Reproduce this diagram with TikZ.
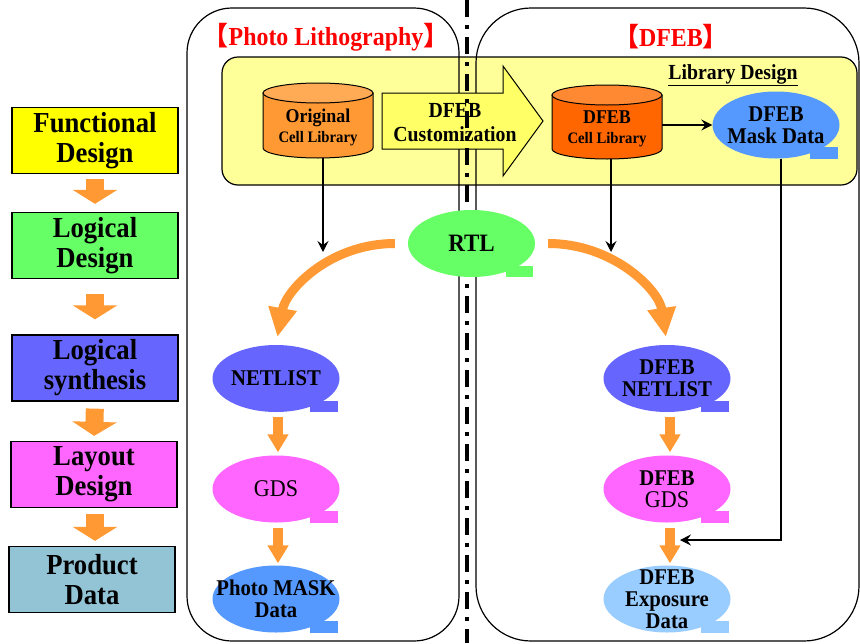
\documentclass[tikz,border=0pt]{standalone}
\usepackage{fontspec}
\setmainfont{Liberation Serif}[FakeStretch=0.92]
\newfontfamily\cjk{Noto Sans CJK SC}
\usetikzlibrary{arrows.meta,calc}
\definecolor{orangeA}{HTML}{FF9933}
\definecolor{libyellow}{HTML}{FFFF99}
\definecolor{arrowyellow}{HTML}{FFFF66}
\definecolor{fdyellow}{HTML}{FFFF00}
\definecolor{ldgreen}{HTML}{66FF66}
\definecolor{lsblue}{HTML}{6666FF}
\definecolor{lymag}{HTML}{FF66FF}
\definecolor{pdblue}{HTML}{93C4D5}
\definecolor{ocbody}{HTML}{FF9933}
\definecolor{octop}{HTML}{FFAA55}
\definecolor{dcbody}{HTML}{FF6600}
\definecolor{dctop}{HTML}{FF8833}
\definecolor{maskblue}{HTML}{5599FF}
\definecolor{expblue}{HTML}{99CCFF}
\definecolor{titlered}{HTML}{FF0000}
\newcommand\blob[4]{%
  \fill[#3] (#2) ellipse [x radius=63.5pt, y radius=33.5pt];
  \fill[#3] ($(#2)+(34,22)$) rectangle ($(#2)+(61.5,33.5)$);
  \node[blobtext] (#1) at (#2) {#4};}
\begin{document}
\begin{tikzpicture}[x=1pt,y=-1pt,
  stagebox/.style={draw, line width=1.3pt, minimum width=166pt, minimum height=66pt,
    align=center, inner sep=0pt, font=\fontsize{29}{30}\selectfont\bfseries},
  stagearrow/.style={draw=orangeA, line width=18pt, -{Triangle[length=14pt,width=44pt]}},
  blobtext/.style={minimum width=127pt, minimum height=67pt, inner sep=0pt, align=center,
    font=\fontsize{22.5}{22}\selectfont\bfseries},
  orangearc/.style={draw=orangeA, line width=9pt, -{Triangle[length=29pt,width=27pt]}},
  smallorange/.style={draw=orangeA, line width=10pt, -{Triangle[length=18pt,width=20pt]}},
  blk/.style={draw=black, line width=1.2pt, -{Stealth[length=11pt,width=11pt,inset=4pt]}},
  cyltext/.style={minimum width=110pt, inner sep=0pt, align=center,
    font=\fontsize{19.5}{20}\selectfont\bfseries},
  titletext/.style={text=titlered, font=\fontsize{26}{28}\selectfont\bfseries, inner sep=0pt}
]
\useasboundingbox (0,0) rectangle (860,643);

% library design box
\draw[fill=libyellow, line width=1.2pt, rounded corners=16pt] (222,57) rectangle (857,185);
% panels
\draw[line width=1.2pt, rounded corners=45pt] (187,8) rectangle (459,641);
\draw[line width=1.2pt, rounded corners=55pt] (476,8) rectangle (859,641);

% big customization arrow
\draw[fill=arrowyellow, line width=1pt] (382,93) -- (503,93) -- (503,66) -- (543,121)
  -- (503,176) -- (503,149) -- (382,149) -- cycle;

% divider
\draw[line width=3.5pt, dash pattern=on 17pt off 8pt on 4pt off 8pt] (467,0) -- (467,643);

\node[font=\fontsize{21.5}{24}\selectfont\bfseries, align=center] (cust) at (455,123)
  {DFEB\\Customization};

% titles
\node[titletext] (tpl) at (326,37) {{\cjk 【}Photo Lithography{\cjk 】}};
\node[titletext] (tdf) at (671,37) {{\cjk 【}DFEB{\cjk 】}};
\node[font=\fontsize{21.5}{22}\selectfont\bfseries, inner sep=0pt] (libd) at (733,75)
  {\underline{Library Design}};

% original cell library cylinder
\filldraw[fill=ocbody, line width=1pt] (263,93) -- (263,148)
  arc[start angle=180, end angle=360, x radius=55pt, y radius=10pt] -- (373,93) -- cycle;
\filldraw[fill=octop, line width=1pt] (318,93) ellipse [x radius=55pt, y radius=10pt];
\node[cyltext, minimum height=62pt] (ocl) at (318,127)
  {Original\\{\fontsize{16}{20}\selectfont Cell Library}};

% DFEB cell library cylinder
\filldraw[fill=dcbody, line width=1pt] (552,95) -- (552,149)
  arc[start angle=180, end angle=360, x radius=55pt, y radius=10pt] -- (662,95) -- cycle;
\filldraw[fill=dctop, line width=1pt] (607,95) ellipse [x radius=55pt, y radius=10pt];
\node[cyltext, minimum height=61pt] (dcl) at (607,128.5)
  {DFEB\\{\fontsize{16}{20}\selectfont Cell Library}};

% blobs
\blob{mdata}{776,125}{maskblue}{DFEB\\Mask Data}
\blob{rtl}{471.5,243.5}{ldgreen}{\fontsize{25}{26}\selectfont RTL}
\blob{net}{276,378.5}{lsblue}{NETLIST}
\blob{gds}{276,489}{lymag}{\mdseries\fontsize{24}{24}\selectfont GDS}
\blob{pm}{276,599}{maskblue}{Photo MASK\\Data}
\blob{dnet}{667,378.5}{lsblue}{DFEB\\NETLIST}
\blob{dgds}{667,489}{lymag}{DFEB\\\mdseries\fontsize{24}{22}\selectfont GDS}
\blob{exp}{667,599}{expblue}{\fontsize{22.5}{21}\selectfont DFEB\\Exposure\\Data}

% stage boxes
\node[stagebox, fill=fdyellow] (fd) at (95,140.5) {Functional\\Design};
\node[stagebox, fill=ldgreen] (ld) at (95,245.5) {Logical\\Design};
\node[stagebox, fill=lsblue] (ls) at (95,368) {Logical\\synthesis};
\node[stagebox, fill=lymag] (ly) at (94,474.5) {Layout\\Design};
\node[stagebox, fill=pdblue] (pd) at (92,579.5) {Product\\Data};

\draw[stagearrow, shorten <=5pt, shorten >=8pt] (fd.south) -- (ld.north);
\draw[stagearrow, shorten <=15pt, shorten >=15pt] (ld.south) -- (ls.north);
\draw[stagearrow, shorten <=7pt, shorten >=5pt] (ls.south) -- (ly.north);
\draw[stagearrow, shorten <=6pt, shorten >=5pt] ($(ly.south)+(1,0)$) -- ($(pd.north)+(3,0)$);

% black connectors
\coordinate (oclend) at (323,252);
\coordinate (dclend) at (611,252);
\coordinate (mturn) at (781,540);
\coordinate (exptip) at (680,540);
\draw[blk] (ocl.south -| oclend) -- (oclend);
\draw[blk] (dcl.south -| dclend) -- (dclend);
\draw[blk] (dcl.east |- mdata) -- (mdata.west);
\draw[blk] (mdata.south -| mturn) -- (mturn) -- (exptip);

% orange arcs
\draw[orangearc, shorten <=13pt, shorten >=8pt] (rtl.west) .. controls +(-78,0) and +(10,-55) .. (net.north);
\draw[orangearc, shorten <=13pt, shorten >=8pt] (rtl.east) .. controls +(78,0) and +(-8,-55) .. (dnet.north);

% small orange arrows
\draw[smallorange, shorten <=5pt, shorten >=3pt] ($(net.south)+(2,0)$) -- ($(gds.north)+(2,0)$);
\draw[smallorange, shorten <=5pt, shorten >=2pt] ($(gds.south)+(2,0)$) -- ($(pm.north)+(2,0)$);
\draw[smallorange, shorten <=5pt, shorten >=3pt] ($(dnet.south)+(3,0)$) -- ($(dgds.north)+(3,0)$);
\draw[smallorange, shorten <=5pt, shorten >=2pt] ($(dgds.south)+(3,0)$) -- ($(exp.north)+(3,0)$);
\end{tikzpicture}
\end{document}
